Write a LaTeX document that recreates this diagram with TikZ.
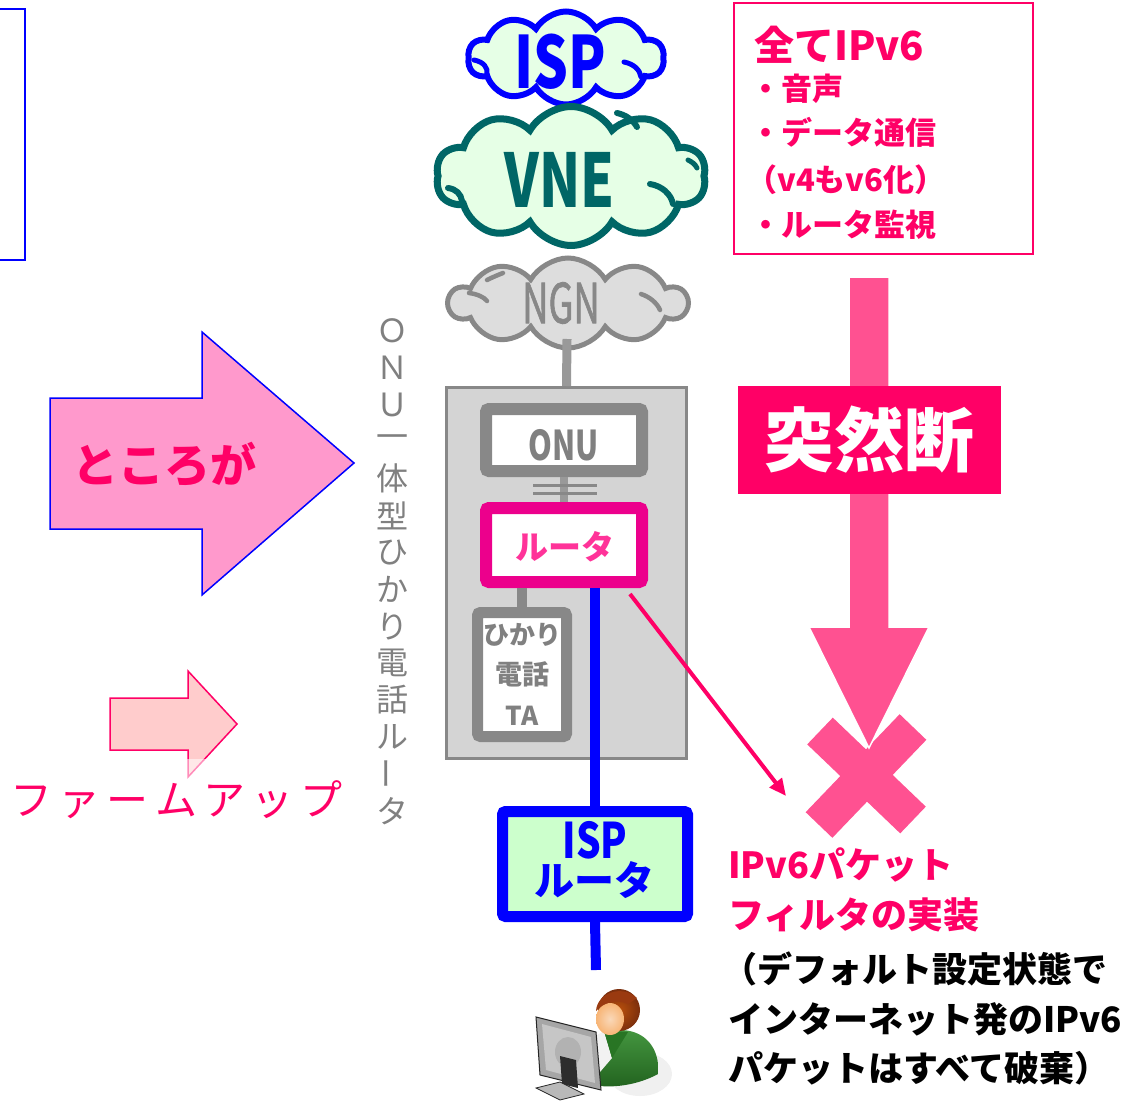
\documentclass[tikz,border=0pt]{standalone}
\usepackage{fontspec}
\setmainfont{Noto Sans CJK JP}
\usepackage{graphicx}
\usetikzlibrary{shapes.symbols,arrows.meta,calc}

\definecolor{hotpink}{HTML}{FF0066}
\definecolor{softpink}{HTML}{FF5191}
\definecolor{arrowpink}{HTML}{FF99CC}
\definecolor{palepink}{HTML}{FFCCCC}
\definecolor{routerpink}{HTML}{FF3399}
\definecolor{cloudgreen}{HTML}{E6FFE6}
\definecolor{boxgreen}{HTML}{CCFFCC}
\definecolor{teal}{HTML}{006666}
\definecolor{midgray}{HTML}{888888}
\definecolor{linegray}{HTML}{999999}
\definecolor{boxgray}{HTML}{D4D4D4}
\definecolor{cloudgray}{HTML}{DDDDDD}
\definecolor{textgray}{HTML}{808080}
\definecolor{hair}{HTML}{9A3A10}
\definecolor{skin}{HTML}{F6BE8A}
\definecolor{shirt}{HTML}{2F8A2A}

\newcommand\fsz[1]{\fontsize{#1}{#1}\selectfont}

\begin{document}
\begin{tikzpicture}[x=1pt,y=-1pt,
  txt/.style={inner sep=0pt, anchor=base west},
  ctxt/.style={inner sep=0pt},
  netcloud/.style={cloud, cloud puffs=10, cloud puff arc=120, cloud ignores aspect, inner sep=0pt},
  devbox/.style={rectangle, rounded corners=3pt, inner sep=0pt},
  crease/.style={line cap=round, fill=none},
]
\useasboundingbox (0,0) rectangle (1134,1102);

% frame at the left edge
\draw[blue, line width=2pt] (-10,9) rectangle (25,260);

% ---------------- clouds ----------------
\node[netcloud, draw=blue, line width=6pt, fill=cloudgreen,
      minimum width=196pt, minimum height=93pt] (isp) at (566,58) {};
\draw[crease, blue, line width=5pt] (474,60) .. controls (484,62) and (488,68) .. (487,74);
\draw[crease, blue, line width=5pt] (624,62) .. controls (634,64) and (640,70) .. (641,77);
\node[ctxt, text=blue, font=\bfseries\fsz{72}] (isptxt) at (560,62) {\scalebox{0.76}[1]{ISP}};

\node[netcloud, draw=teal, line width=7pt, fill=cloudgreen,
      minimum width=270pt, minimum height=139pt] (vne) at (571,176) {};
\draw[crease, teal, line width=6pt] (448,188) .. controls (456,189) and (461,194) .. (462,201);
\draw[crease, teal, line width=6pt] (650,184) .. controls (662,186) and (671,194) .. (673,204);
\draw[crease, teal, line width=6pt] (617,113) .. controls (626,115) and (633,120) .. (637,127);
\draw[crease, teal, line width=5pt] (688,160) .. controls (692,162) and (695,164) .. (697,168);
\node[ctxt, text=teal, font=\bfseries\fsz{74}] (vnetxt) at (560,180) {\scalebox{0.73}[1]{VNE}};

\node[netcloud, draw=midgray, line width=5pt, fill=cloudgray,
      minimum width=238pt, minimum height=90pt] (ngn) at (568,303) {};
\draw[crease, midgray, line width=4.5pt] (469,293) .. controls (477,294) and (484,297) .. (487,301);
\draw[crease, midgray, line width=4.5pt] (641,294) .. controls (650,297) and (657,303) .. (660,310);
\draw[crease, midgray, line width=4.5pt] (487,280) .. controls (493,277) and (498,275) .. (503,273);
\node[ctxt, text=midgray, font=\fsz{55}] (ngntxt) at (561,303) {\scalebox{0.66}[1]{\addfontfeature{FakeBold=1.5}NGN}};

% ---------------- ONU-integrated router ----------------
\node[draw=midgray, fill=boxgray, line width=3pt, minimum width=240pt,
      minimum height=371pt, inner sep=0pt] (box) at (566.5,573) {};
\coordinate (ngnfoot) at (567,339);
\draw[linegray, line width=9pt] (ngnfoot) -- (box.north);

\node[devbox, draw=midgray, fill=white, line width=12pt,
      minimum width=156pt, minimum height=62pt] (onu) at (564,440) {};
\node[ctxt, text=textgray, font=\bfseries\fsz{41}] (onutxt) at (564,445) {\scalebox{0.74}[1]{ONU}};

\node[devbox, draw=magenta, fill=white, line width=12pt,
      minimum width=156pt, minimum height=74pt] (router) at (564,545) {};
\node[ctxt, text=routerpink, font=\bfseries\fsz{33}] (routertxt) at (565,547) {ルータ};

\node[devbox, draw=midgray, fill=white, line width=11pt,
      minimum width=89pt, minimum height=124pt] (ta) at (522,674.5) {};
\node[ctxt, text=textgray, font=\bfseries\fsz{26}] (ta1) at (522,635) {ひかり};
\node[ctxt, text=textgray, font=\bfseries\fsz{27}] (ta2) at (522,674) {電話};
\node[ctxt, text=textgray, font=\bfseries\fsz{26}] (ta3) at (522,716) {TA};

% links inside the box
\draw[linegray, line width=8pt] (onu.south) -- (router.north);
\coordinate (capL) at (533,485);
\coordinate (capR) at (597,485);
\draw[midgray, line width=3pt] (capL) -- (capR);
\draw[midgray, line width=3pt] ($(capL)+(0,8)$) -- ($(capR)+(0,8)$);
\draw[midgray, line width=10pt] (ta.north |- router.south) -- (ta.north);

% vertical caption
\foreach \c [count=\i] in {Ｏ,Ｎ,Ｕ,一,体,型,ひ,か,り,電,話,ル,{\rotatebox{90}{ー}},タ}
  \node[ctxt, text=textgray, font=\fsz{32}] (cap\i) at (392,{331+(\i-1)*36.9}) {\c};

% ---------------- ISP router and user ----------------
\node[devbox, draw=blue, fill=boxgreen, line width=11pt,
      minimum width=185pt, minimum height=105pt] (isprouter) at (595,864) {};
\node[ctxt, text=blue, font=\bfseries\fsz{49}] (isprtxt1) at (595,840) {\scalebox{0.79}[1]{ISP}};
\node[ctxt, text=blue, font=\bfseries\fsz{40}] (isprtxt2) at (594,880) {ルータ};

\draw[blue, line width=10pt] (isprouter.north |- router.south) -- (isprouter.north);
\coordinate (userlink) at (596,970);
\draw[blue, line width=10pt] (isprouter.south) -- (userlink);

% user at the computer
\fill[gray!12] (640,1074) ellipse [x radius=32, y radius=22];
\shade[top color=shirt!90!white, bottom color=shirt!70!black]
  (588,1084) -- (590,1050) .. controls (594,1036) and (606,1030) .. (620,1030)
  .. controls (642,1030) and (656,1044) .. (658,1064) -- (658,1074)
  .. controls (640,1084) and (612,1090) .. (588,1084) -- cycle;
\fill[white!90!gray] (592,1038) -- (604,1031) -- (612,1058) -- (600,1072) -- (592,1062) -- cycle;
\fill[shirt!85!black] (604,1031) -- (628,1032) -- (612,1058) -- cycle;
\shade[inner color=hair!70!orange, outer color=hair!80!black] (619,1010) circle [radius=21];
\shade[inner color=skin!60!white, outer color=skin!85!orange]
  (610,1019) ellipse [x radius=14, y radius=16];
\fill[hair] (596,1011) .. controls (597,993) and (622,984) .. (637,998)
  -- (628,1004) .. controls (616,999) and (604,1002) .. (596,1011) -- cycle;
% monitor seen from behind
\fill[gray!70] (536,1017) -- (596,1032) -- (601,1090) -- (540,1075) -- cycle;
\draw[gray!30!black, line width=1pt] (536,1017) -- (596,1032) -- (601,1090) -- (540,1075) -- cycle;
\fill[gray!45] (542,1024) -- (591,1037) -- (595,1083) -- (546,1070) -- cycle;
\fill[gray!60] (568,1052) ellipse [x radius=13, y radius=15];
\fill[gray!35!black] (560,1056) -- (576,1060) -- (578,1088) -- (562,1084) -- cycle;
\fill[gray!55] (536,1088) -- (560,1082) -- (584,1094) -- (560,1100) -- cycle;
\draw[gray!30!black, line width=0.8pt] (536,1088) -- (560,1082) -- (584,1094) -- (560,1100) -- cycle;

% ---------------- left arrows ----------------
\draw[blue, line width=1.5pt, fill=arrowpink]
  (50,398) -- (202,398) -- (202,332) -- (354,463) -- (202,595) -- (202,529) -- (50,529) -- cycle;
\node[inner sep=0pt, anchor=base, text=hotpink, font=\bfseries\fsz{46}] (tokoroga) at (164,482) {ところが};

\draw[hotpink, line width=1.5pt, fill=palepink]
  (110,698) -- (188,698) -- (188,671) -- (237,724) -- (188,777) -- (188,750) -- (110,750) -- cycle;
\fill[white, opacity=0.55] (184,759) rectangle (216,781);
\node[txt, text=hotpink, font=\fsz{42}] (firm) at (10,815)
  {\makebox[332pt][s]{フ\hfill ァ\hfill ー\hfill ム\hfill ア\hfill ッ\hfill プ}};

% ---------------- right: IPv6 notes ----------------
\node[draw=hotpink, line width=2pt, minimum width=299pt, minimum height=250pt,
      inner sep=0pt] (notebox) at (883,128.5) {};
\node[txt, text=hotpink, font=\bfseries\fsz{40}] (n0) at (754,61) {全てIPv6};
\node[txt, text=hotpink, font=\bfseries\fsz{31}] (n1) at (750,101) {・音声};
\node[txt, text=hotpink, font=\bfseries\fsz{31}] (n2) at (750,145) {・データ通信};
\node[txt, text=hotpink, font=\bfseries\fsz{31}] (n3) at (746,192) {（v4もv6化）};
\node[txt, text=hotpink, font=\bfseries\fsz{31}] (n4) at (750,236) {・ルータ監視};

% sudden cut arrow with the cross
\draw[softpink, line width=37pt] (820,731) -- (913,820);
\draw[softpink, line width=37pt] (913,727) -- (819,825);
\draw[white, line width=1.5pt, fill=softpink]
  (849,277) -- (889,277) -- (889,627) -- (929,627) -- (869,748) -- (809,627) -- (849,627) -- cycle;
\node[fill=hotpink, minimum width=263pt, minimum height=108pt, inner sep=0pt,
      text=white, font=\bfseries\fsz{70}] (cut) at (869.5,440) {突然断};

% filter pointer
\coordinate (filterstart) at (630,594);
\coordinate (filterend) at (786,796);
\draw[hotpink, line width=4pt, -{Triangle[length=17pt,width=15pt]}] (filterstart) -- (filterend);

\node[txt, text=hotpink, font=\bfseries\fsz{36}] (f1) at (728,878) {IPv6パケット};
\node[txt, text=hotpink, font=\bfseries\fsz{36}] (f2) at (728,928) {フィルタの実装};
\node[txt, text=black, font=\bfseries\fsz{35}] (f3) at (722,982) {（デフォルト設定状態で};
\node[txt, text=black, font=\bfseries\fsz{35}] (f4) at (728,1032) {インターネット発のIPv6};
\node[txt, text=black, font=\bfseries\fsz{35}] (f5) at (728,1081) {パケットはすべて破棄）};
\end{tikzpicture}
\end{document}
